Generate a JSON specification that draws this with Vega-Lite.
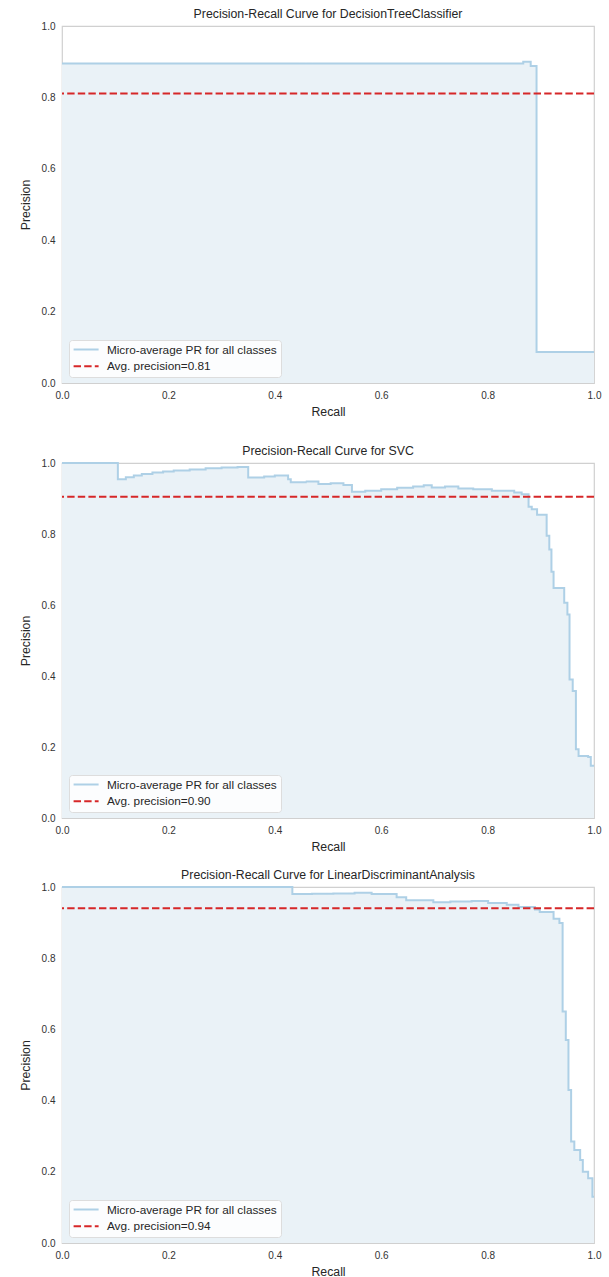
{
  "$schema": "https://vega.github.io/schema/vega-lite/v6.json",
  "padding": {"left": 18, "top": 7, "right": 5, "bottom": 5},
  "background": "white",
  "datasets": {
    "pr": [
      {"model": "DT", "series": "Micro-average PR for all classes", "recall": 0.0, "precision": 0.895},
      {"model": "DT", "series": "Micro-average PR for all classes", "recall": 0.867, "precision": 0.9},
      {"model": "DT", "series": "Micro-average PR for all classes", "recall": 0.881, "precision": 0.888},
      {"model": "DT", "series": "Micro-average PR for all classes", "recall": 0.892, "precision": 0.087},
      {"model": "DT", "series": "Micro-average PR for all classes", "recall": 1.0, "precision": 0.087},

      {"model": "SVC", "series": "Micro-average PR for all classes", "recall": 0.0, "precision": 1.0},
      {"model": "SVC", "series": "Micro-average PR for all classes", "recall": 0.105, "precision": 0.954},
      {"model": "SVC", "series": "Micro-average PR for all classes", "recall": 0.12, "precision": 0.96},
      {"model": "SVC", "series": "Micro-average PR for all classes", "recall": 0.135, "precision": 0.965},
      {"model": "SVC", "series": "Micro-average PR for all classes", "recall": 0.15, "precision": 0.969},
      {"model": "SVC", "series": "Micro-average PR for all classes", "recall": 0.17, "precision": 0.973},
      {"model": "SVC", "series": "Micro-average PR for all classes", "recall": 0.19, "precision": 0.976},
      {"model": "SVC", "series": "Micro-average PR for all classes", "recall": 0.21, "precision": 0.979},
      {"model": "SVC", "series": "Micro-average PR for all classes", "recall": 0.24, "precision": 0.982},
      {"model": "SVC", "series": "Micro-average PR for all classes", "recall": 0.27, "precision": 0.985},
      {"model": "SVC", "series": "Micro-average PR for all classes", "recall": 0.3, "precision": 0.987},
      {"model": "SVC", "series": "Micro-average PR for all classes", "recall": 0.33, "precision": 0.989},
      {"model": "SVC", "series": "Micro-average PR for all classes", "recall": 0.35, "precision": 0.959},
      {"model": "SVC", "series": "Micro-average PR for all classes", "recall": 0.38, "precision": 0.962},
      {"model": "SVC", "series": "Micro-average PR for all classes", "recall": 0.4, "precision": 0.965},
      {"model": "SVC", "series": "Micro-average PR for all classes", "recall": 0.425, "precision": 0.954},
      {"model": "SVC", "series": "Micro-average PR for all classes", "recall": 0.43, "precision": 0.946},
      {"model": "SVC", "series": "Micro-average PR for all classes", "recall": 0.46, "precision": 0.948},
      {"model": "SVC", "series": "Micro-average PR for all classes", "recall": 0.482, "precision": 0.941},
      {"model": "SVC", "series": "Micro-average PR for all classes", "recall": 0.505, "precision": 0.943},
      {"model": "SVC", "series": "Micro-average PR for all classes", "recall": 0.529, "precision": 0.938},
      {"model": "SVC", "series": "Micro-average PR for all classes", "recall": 0.545, "precision": 0.919},
      {"model": "SVC", "series": "Micro-average PR for all classes", "recall": 0.57, "precision": 0.922},
      {"model": "SVC", "series": "Micro-average PR for all classes", "recall": 0.6, "precision": 0.926},
      {"model": "SVC", "series": "Micro-average PR for all classes", "recall": 0.63, "precision": 0.93},
      {"model": "SVC", "series": "Micro-average PR for all classes", "recall": 0.66, "precision": 0.934},
      {"model": "SVC", "series": "Micro-average PR for all classes", "recall": 0.68, "precision": 0.937},
      {"model": "SVC", "series": "Micro-average PR for all classes", "recall": 0.695, "precision": 0.931},
      {"model": "SVC", "series": "Micro-average PR for all classes", "recall": 0.72, "precision": 0.934},
      {"model": "SVC", "series": "Micro-average PR for all classes", "recall": 0.745, "precision": 0.928},
      {"model": "SVC", "series": "Micro-average PR for all classes", "recall": 0.773, "precision": 0.926},
      {"model": "SVC", "series": "Micro-average PR for all classes", "recall": 0.808, "precision": 0.922},
      {"model": "SVC", "series": "Micro-average PR for all classes", "recall": 0.85, "precision": 0.917},
      {"model": "SVC", "series": "Micro-average PR for all classes", "recall": 0.864, "precision": 0.912},
      {"model": "SVC", "series": "Micro-average PR for all classes", "recall": 0.877, "precision": 0.877},
      {"model": "SVC", "series": "Micro-average PR for all classes", "recall": 0.883, "precision": 0.87},
      {"model": "SVC", "series": "Micro-average PR for all classes", "recall": 0.893, "precision": 0.854},
      {"model": "SVC", "series": "Micro-average PR for all classes", "recall": 0.911, "precision": 0.795},
      {"model": "SVC", "series": "Micro-average PR for all classes", "recall": 0.916, "precision": 0.756},
      {"model": "SVC", "series": "Micro-average PR for all classes", "recall": 0.92, "precision": 0.694},
      {"model": "SVC", "series": "Micro-average PR for all classes", "recall": 0.924, "precision": 0.648},
      {"model": "SVC", "series": "Micro-average PR for all classes", "recall": 0.944, "precision": 0.606},
      {"model": "SVC", "series": "Micro-average PR for all classes", "recall": 0.95, "precision": 0.573},
      {"model": "SVC", "series": "Micro-average PR for all classes", "recall": 0.954, "precision": 0.39},
      {"model": "SVC", "series": "Micro-average PR for all classes", "recall": 0.96, "precision": 0.358},
      {"model": "SVC", "series": "Micro-average PR for all classes", "recall": 0.966, "precision": 0.194},
      {"model": "SVC", "series": "Micro-average PR for all classes", "recall": 0.971, "precision": 0.175},
      {"model": "SVC", "series": "Micro-average PR for all classes", "recall": 0.989, "precision": 0.172},
      {"model": "SVC", "series": "Micro-average PR for all classes", "recall": 0.994, "precision": 0.147},
      {"model": "SVC", "series": "Micro-average PR for all classes", "recall": 1.0, "precision": 0.147},

      {"model": "LDA", "series": "Micro-average PR for all classes", "recall": 0.0, "precision": 1.0},
      {"model": "LDA", "series": "Micro-average PR for all classes", "recall": 0.433, "precision": 0.98},
      {"model": "LDA", "series": "Micro-average PR for all classes", "recall": 0.47, "precision": 0.981},
      {"model": "LDA", "series": "Micro-average PR for all classes", "recall": 0.51, "precision": 0.982},
      {"model": "LDA", "series": "Micro-average PR for all classes", "recall": 0.55, "precision": 0.984},
      {"model": "LDA", "series": "Micro-average PR for all classes", "recall": 0.582, "precision": 0.98},
      {"model": "LDA", "series": "Micro-average PR for all classes", "recall": 0.629, "precision": 0.971},
      {"model": "LDA", "series": "Micro-average PR for all classes", "recall": 0.647, "precision": 0.963},
      {"model": "LDA", "series": "Micro-average PR for all classes", "recall": 0.698, "precision": 0.957},
      {"model": "LDA", "series": "Micro-average PR for all classes", "recall": 0.73, "precision": 0.959},
      {"model": "LDA", "series": "Micro-average PR for all classes", "recall": 0.77, "precision": 0.961},
      {"model": "LDA", "series": "Micro-average PR for all classes", "recall": 0.801, "precision": 0.955},
      {"model": "LDA", "series": "Micro-average PR for all classes", "recall": 0.836, "precision": 0.95},
      {"model": "LDA", "series": "Micro-average PR for all classes", "recall": 0.858, "precision": 0.944},
      {"model": "LDA", "series": "Micro-average PR for all classes", "recall": 0.889, "precision": 0.937},
      {"model": "LDA", "series": "Micro-average PR for all classes", "recall": 0.898, "precision": 0.93},
      {"model": "LDA", "series": "Micro-average PR for all classes", "recall": 0.924, "precision": 0.911},
      {"model": "LDA", "series": "Micro-average PR for all classes", "recall": 0.935, "precision": 0.899},
      {"model": "LDA", "series": "Micro-average PR for all classes", "recall": 0.941, "precision": 0.65},
      {"model": "LDA", "series": "Micro-average PR for all classes", "recall": 0.947, "precision": 0.57},
      {"model": "LDA", "series": "Micro-average PR for all classes", "recall": 0.952, "precision": 0.43},
      {"model": "LDA", "series": "Micro-average PR for all classes", "recall": 0.957, "precision": 0.285},
      {"model": "LDA", "series": "Micro-average PR for all classes", "recall": 0.963, "precision": 0.261},
      {"model": "LDA", "series": "Micro-average PR for all classes", "recall": 0.974, "precision": 0.233},
      {"model": "LDA", "series": "Micro-average PR for all classes", "recall": 0.979, "precision": 0.2},
      {"model": "LDA", "series": "Micro-average PR for all classes", "recall": 0.989, "precision": 0.182},
      {"model": "LDA", "series": "Micro-average PR for all classes", "recall": 0.997, "precision": 0.13},
      {"model": "LDA", "series": "Micro-average PR for all classes", "recall": 1.0, "precision": 0.13}
    ],
    "ap": [
      {"model": "DT", "series": "Avg. precision=0.81", "ap": 0.811},
      {"model": "SVC", "series": "Avg. precision=0.90", "ap": 0.905},
      {"model": "LDA", "series": "Avg. precision=0.94", "ap": 0.94}
    ]
  },
  "vconcat": [
    {
      "title": "Precision-Recall Curve for DecisionTreeClassifier",
      "width": 532, "height": 357,
      "layer": [
        {"data": {"name": "pr"}, "transform": [{"filter": "datum.model === 'DT'"}],
         "mark": {"type": "area", "interpolate": "step-after", "color": "#eaf2f7", "opacity": 1},
         "encoding": {
           "x": {"field": "recall", "type": "quantitative", "scale": {"domain": [0, 1], "nice": false}, "title": ["Recall", ""], "axis": {"values": [0, 0.2, 0.4, 0.6, 0.8, 1.0]}},
           "y": {"field": "precision", "type": "quantitative", "scale": {"domain": [0, 1], "nice": false}, "title": "Precision", "axis": {"values": [0, 0.2, 0.4, 0.6, 0.8, 1.0]}}}},
        {"data": {"name": "pr"}, "transform": [{"filter": "datum.model === 'DT'"}],
         "mark": {"type": "line", "interpolate": "step-after", "strokeWidth": 2},
         "encoding": {
           "x": {"field": "recall", "type": "quantitative"},
           "y": {"field": "precision", "type": "quantitative"},
           "color": {"field": "series", "type": "nominal", "scale": {"domain": ["Micro-average PR for all classes", "Avg. precision=0.81"], "range": ["#aed0e6", "#d62728"]}, "title": null},
           "strokeDash": {"field": "series", "type": "nominal", "scale": {"domain": ["Micro-average PR for all classes", "Avg. precision=0.81"], "range": [[1, 0], [7.4, 3.2]]}, "title": null}}},
        {"data": {"name": "ap"}, "transform": [{"filter": "datum.model === 'DT'"}],
         "mark": {"type": "rule", "strokeWidth": 2},
         "encoding": {
           "y": {"field": "ap", "type": "quantitative"},
           "color": {"field": "series", "type": "nominal", "title": null},
           "strokeDash": {"field": "series", "type": "nominal", "title": null}}}
      ]
    },
    {
      "title": "Precision-Recall Curve for SVC",
      "width": 532, "height": 355,
      "layer": [
        {"data": {"name": "pr"}, "transform": [{"filter": "datum.model === 'SVC'"}],
         "mark": {"type": "area", "interpolate": "step-after", "color": "#eaf2f7", "opacity": 1},
         "encoding": {
           "x": {"field": "recall", "type": "quantitative", "scale": {"domain": [0, 1], "nice": false}, "title": "Recall", "axis": {"values": [0, 0.2, 0.4, 0.6, 0.8, 1.0]}},
           "y": {"field": "precision", "type": "quantitative", "scale": {"domain": [0, 1], "nice": false}, "title": "Precision", "axis": {"values": [0, 0.2, 0.4, 0.6, 0.8, 1.0]}}}},
        {"data": {"name": "pr"}, "transform": [{"filter": "datum.model === 'SVC'"}],
         "mark": {"type": "line", "interpolate": "step-after", "strokeWidth": 2},
         "encoding": {
           "x": {"field": "recall", "type": "quantitative"},
           "y": {"field": "precision", "type": "quantitative"},
           "color": {"field": "series", "type": "nominal", "scale": {"domain": ["Micro-average PR for all classes", "Avg. precision=0.90"], "range": ["#aed0e6", "#d62728"]}, "title": null},
           "strokeDash": {"field": "series", "type": "nominal", "scale": {"domain": ["Micro-average PR for all classes", "Avg. precision=0.90"], "range": [[1, 0], [7.4, 3.2]]}, "title": null}}},
        {"data": {"name": "ap"}, "transform": [{"filter": "datum.model === 'SVC'"}],
         "mark": {"type": "rule", "strokeWidth": 2},
         "encoding": {
           "y": {"field": "ap", "type": "quantitative"},
           "color": {"field": "series", "type": "nominal", "title": null},
           "strokeDash": {"field": "series", "type": "nominal", "title": null}}}
      ]
    },
    {
      "title": "Precision-Recall Curve for LinearDiscriminantAnalysis",
      "width": 532, "height": 356,
      "layer": [
        {"data": {"name": "pr"}, "transform": [{"filter": "datum.model === 'LDA'"}],
         "mark": {"type": "area", "interpolate": "step-after", "color": "#eaf2f7", "opacity": 1},
         "encoding": {
           "x": {"field": "recall", "type": "quantitative", "scale": {"domain": [0, 1], "nice": false}, "title": "Recall", "axis": {"values": [0, 0.2, 0.4, 0.6, 0.8, 1.0]}},
           "y": {"field": "precision", "type": "quantitative", "scale": {"domain": [0, 1], "nice": false}, "title": "Precision", "axis": {"values": [0, 0.2, 0.4, 0.6, 0.8, 1.0]}}}},
        {"data": {"name": "pr"}, "transform": [{"filter": "datum.model === 'LDA'"}],
         "mark": {"type": "line", "interpolate": "step-after", "strokeWidth": 2},
         "encoding": {
           "x": {"field": "recall", "type": "quantitative"},
           "y": {"field": "precision", "type": "quantitative"},
           "color": {"field": "series", "type": "nominal", "scale": {"domain": ["Micro-average PR for all classes", "Avg. precision=0.94"], "range": ["#aed0e6", "#d62728"]}, "title": null},
           "strokeDash": {"field": "series", "type": "nominal", "scale": {"domain": ["Micro-average PR for all classes", "Avg. precision=0.94"], "range": [[1, 0], [7.4, 3.2]]}, "title": null}}},
        {"data": {"name": "ap"}, "transform": [{"filter": "datum.model === 'LDA'"}],
         "mark": {"type": "rule", "strokeWidth": 2},
         "encoding": {
           "y": {"field": "ap", "type": "quantitative"},
           "color": {"field": "series", "type": "nominal", "title": null},
           "strokeDash": {"field": "series", "type": "nominal", "title": null}}}
      ]
    }
  ],
  "spacing": 15,
  "resolve": {"scale": {"color": "independent", "strokeDash": "independent"}, "legend": {"color": "independent", "strokeDash": "independent"}},
  "config": {
    "font": "Liberation Sans",
    "view": {"stroke": "#d0d0d0", "strokeWidth": 1.2},
    "title": {"fontSize": 12.3, "fontWeight": "normal", "color": "#262626", "offset": 1, "anchor": "middle"},
    "axis": {
      "grid": false, "ticks": false, "domain": false,
      "labelFontSize": 10, "labelColor": "#333333", "labelPadding": 7, "labelFlush": false,
      "titleFontSize": 12.3, "titleFontWeight": "normal", "titleColor": "#262626", "format": ".1f"
    },
    "axisX": {"titlePadding": 5, "titleLineHeight": 11},
    "axisY": {"titlePadding": 9},
    "legend": {
      "orient": "bottom-left", "offset": 6.5, "padding": 3.6, "rowPadding": 3.7,
      "symbolType": "M-2.5,0H2.5", "symbolSize": 100, "symbolStrokeWidth": 2, "symbolOffset": 7.5,
      "labelFontSize": 11.8, "labelColor": "#262626", "labelOffset": 14.8, "labelLimit": 400,
      "fillColor": "rgba(255,255,255,0.85)", "strokeColor": "#dddddd", "cornerRadius": 3
    }
  }
}
